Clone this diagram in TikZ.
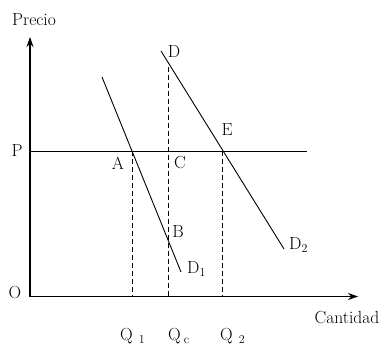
\documentclass[tikz,border=0pt]{standalone}
\usepackage{fontspec}
\usepackage{tikz}
\usetikzlibrary{arrows.meta, positioning, calc}
\tikzset{
  axisline/.style={-{Stealth[length=10pt, width=7pt]}, line width=1.1pt, draw=black},
  curveline/.style={line width=0.9pt, draw=black},
  priceline/.style={line width=0.9pt, draw=black},
  guideline/.style={line width=0.9pt, dash pattern=on 5pt off 3pt, draw=black},
  ptlabel/.style={font=\fontsize{17.5}{20}\selectfont, inner sep=0pt},
  qlabel/.style={font=\fontsize{17.5}{20}\selectfont, inner sep=0pt, anchor=base west}
}

\begin{document}
\begin{tikzpicture}[x=1pt, y=-1pt]
  \useasboundingbox (0,0) rectangle (385,344);

  % axes
  \coordinate (orig) at (30,296.5);
  \coordinate (ytop) at (30,37);
  \coordinate (xend) at (358,296.5);
  \draw[axisline] (orig) -- (ytop);
  \draw[axisline] (orig) -- (xend);

  % price level
  \coordinate (pleft) at (30,151);
  \coordinate (pright) at (307,151);
  \draw[priceline] (pleft) -- (pright);

  % demand curves
  \coordinate (d1top) at (102,77);
  \coordinate (d1bot) at (181,272);
  \coordinate (d2top) at (161,51);
  \coordinate (d2bot) at (284,249);
  \draw[curveline] (d1top) -- (d1bot);
  \draw[curveline] (d2top) -- (d2bot);

  % guide lines
  \coordinate (ptA) at (132.5,151);
  \coordinate (ptE) at (222.5,151);
  \coordinate (ptD) at (168,67);
  \coordinate (q1) at (132.5,296.5);
  \coordinate (qc) at (168,296.5);
  \coordinate (q2) at (222.5,296.5);
  \draw[guideline] (ptA) -- (q1);
  \draw[guideline] (ptD) -- (qc);
  \draw[guideline] (ptE) -- (q2);

  % labels
  \node[ptlabel] (precio) at (34,20) {Precio};
  \node[ptlabel] (cantidad) at (347,318) {Cantidad};
  \node[ptlabel] (lblO) at (15,293) {O};
  \node[ptlabel] (lblP) at (17,151) {P};
  \node[ptlabel] (lblA) at (118,163) {A};
  \node[ptlabel] (lblC) at (180,163) {C};
  \node[ptlabel] (lblD) at (174,52) {D};
  \node[ptlabel] (lblE) at (227,130) {E};
  \node[ptlabel] (lblB) at (178,232) {B};
  \node[ptlabel, anchor=base west] (lblD1) at (187,273.5) {D$_1$};
  \node[ptlabel, anchor=base west] (lblD2) at (289,249.5) {D$_2$};

  \node[qlabel] (lblQ1) at (120,340.5) {Q\hspace{6pt}$_1$};
  \node[qlabel] (lblQc) at (168,340.5) {Q\hspace{3pt}$_{\mathrm{c}}$};
  \node[qlabel] (lblQ2) at (220,340.5) {Q\hspace{6pt}$_2$};
\end{tikzpicture}
\end{document}
